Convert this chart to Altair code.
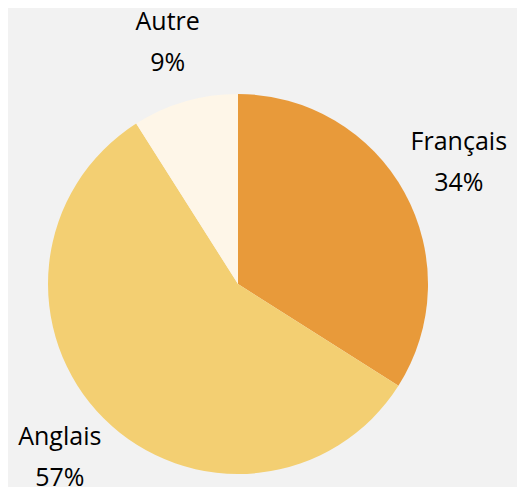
import altair as alt
import pandas as pd

categories = ["Français", "Anglais", "Autre"]
values = [34, 57, 9]
colors = ["#E89A3A", "#F3CF72", "#FEF6E8"]

df = pd.DataFrame({
    "cat": categories,
    "value": values,
    "idx": list(range(len(categories))),
})
df["label"] = [f"{c}\n{v}%" for c, v in zip(categories, values)]

cx, cy = 230, 276
theta_scale = alt.Scale(domain=[0, 100])

arcs = alt.Chart(df).mark_arc(outerRadius=190).encode(
    theta=alt.Theta("value:Q", stack=True, scale=theta_scale),
    order=alt.Order("idx:Q"),
    x=alt.value(cx),
    y=alt.value(cy),
    color=alt.Color("cat:N", scale=alt.Scale(domain=categories, range=colors), legend=None),
)

text_base = alt.Chart(df).transform_window(
    cum="sum(value)", sort=[alt.SortField("idx")]
).transform_calculate(
    mid="datum.cum - datum.value / 2"
).encode(
    theta=alt.Theta("mid:Q", scale=theta_scale, stack=None),
    x=alt.value(cx),
    y=alt.value(cy),
    text="label:N",
)

text_style = dict(radius=252, lineBreak="\n", lineHeight=41, font="Open Sans", fontSize=25,
                  color="#000000", align="center", baseline="middle")

labels = text_base.mark_text(dy=-20.5, **text_style).transform_filter(
    alt.datum.cat != "Anglais"
)
labels_low = text_base.mark_text(dy=-25, **text_style).transform_filter(
    alt.datum.cat == "Anglais"
)

chart = (arcs + labels + labels_low).properties(
    width=509, height=479, padding=0, autosize=alt.AutoSizeParams(type="none"),
    background="#F2F2F2"
).configure_view(stroke=None)

chart.save("out.html", embed_options={"renderer": "svg", "actions": False})
